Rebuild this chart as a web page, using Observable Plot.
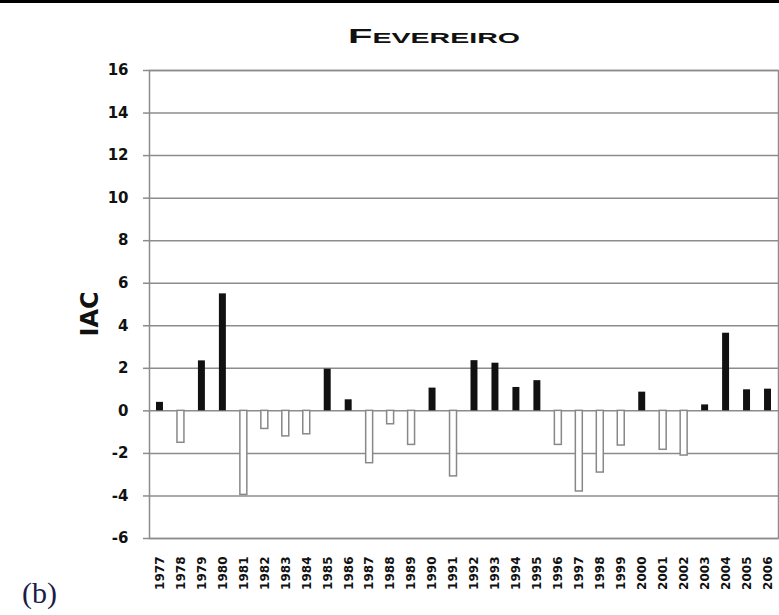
<!DOCTYPE html>
<html><head><meta charset="utf-8">
<script src="https://cdn.jsdelivr.net/npm/d3@7"></script>
<script src="https://cdn.jsdelivr.net/npm/@observablehq/plot@0.6"></script>
<style>
html,body{margin:0;padding:0;background:#fff;}
#wrap{position:relative;width:779px;height:615px;overflow:hidden;}
#topline{position:absolute;left:0;top:0;width:779px;height:3px;background:#000;}
</style></head><body>
<div id="wrap"><div id="chart"></div><div id="topline"></div></div>
<script>
const years = [1977,1978,1979,1980,1981,1982,1983,1984,1985,1986,1987,1988,1989,1990,1991,1992,1993,1994,1995,1996,1997,1998,1999,2000,2001,2002,2003,2004,2005,2006];
const values = [0.4,-1.5,2.35,5.5,-3.95,-0.85,-1.2,-1.1,1.96,0.52,-2.46,-0.63,-1.6,1.07,-3.08,2.36,2.24,1.1,1.42,-1.6,-3.79,-2.9,-1.63,0.88,-1.83,-2.1,0.28,3.65,0.99,1.02];
const yTicks = [-6,-4,-2,0,2,4,6,8,10,12,14,16];
const title = "Fevereiro";
const yLabel = "IAC";
const panelLabel = "(b)";

const data = years.map((y, i) => ({year: String(y), value: values[i]}));
const sans = "'DejaVu Sans', 'Liberation Sans', Arial, sans-serif";

const chart = Plot.plot({
  width: 779, height: 615,
  marginLeft: 149, marginRight: 1, marginTop: 70, marginBottom: 77,
  style: {fontFamily: sans, background: "#fff", color: "#111"},
  x: {type: "band", domain: years.map(String), padding: 0, round: false, axis: null},
  y: {domain: [-6, 16], axis: null},
  marks: [
    Plot.gridY(yTicks, {stroke: "#8c8c8c", strokeOpacity: 1, strokeWidth: 1.5}),
    Plot.frame({stroke: "#8c8c8c", strokeWidth: 1.5}),
    Plot.axisY(yTicks, {tickSize: 6, tickPadding: 15, fontSize: 15, fontWeight: "bold", stroke: "#8c8c8c", strokeWidth: 1.5, fill: "#111", tickFormat: d => String(d), label: null}),
    Plot.axisX({tickSize: 0, tickPadding: 18, tickRotate: -90, fontSize: 12, fontWeight: "bold", fill: "#111", label: null}),
    Plot.barY(data.filter(d => d.value >= 0), {x: "year", y: "value", fill: "#111", insetLeft: 7, insetRight: 7}),
    Plot.barY(data.filter(d => d.value < 0), {x: "year", y: "value", fill: "#fff", stroke: "#888", strokeWidth: 1.5, insetLeft: 7, insetRight: 7}),
    Plot.text([yLabel], {frameAnchor: "left", dx: -59, dy: 32, rotate: -90, fontSize: 24, fontWeight: "bold", fill: "#111"}),
    Plot.text([title], {frameAnchor: "top", dx: -30, dy: -42, fontSize: 21, fontWeight: "bold", fontVariant: "small-caps", fontFamily: "'Liberation Sans', Arial, sans-serif", fill: "#111"}),
    Plot.text([panelLabel], {frameAnchor: "bottom-left", textAnchor: "middle", dx: -110, dy: 64, fontSize: 30, fontFamily: "'Liberation Serif', 'DejaVu Serif', serif", fill: "#1c1c4a"})
  ]
});
document.getElementById("chart").appendChild(chart);
chart.querySelectorAll("text").forEach(t => {
  if (t.textContent === title) {
    t.setAttribute("textLength", "172");
    t.setAttribute("lengthAdjust", "spacingAndGlyphs");
  }
});
</script>
</body></html>
